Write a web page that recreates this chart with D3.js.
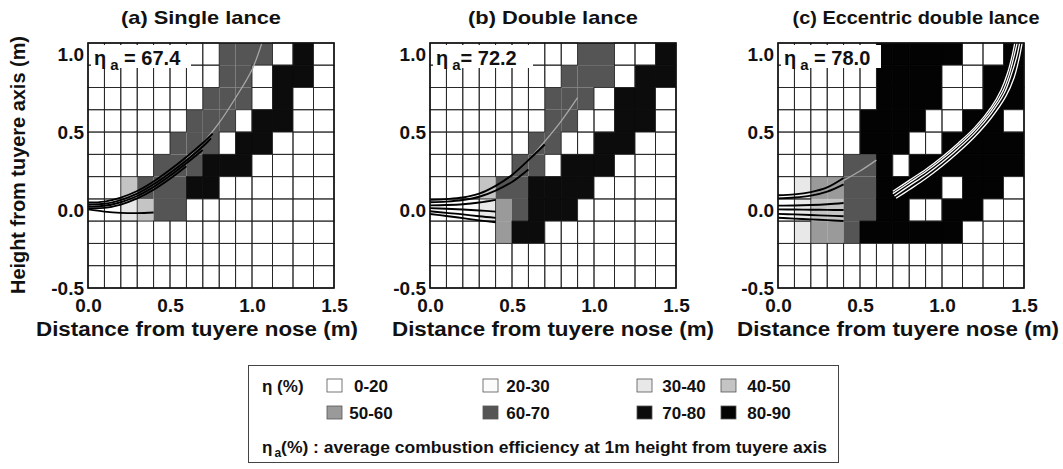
<!DOCTYPE html>
<html>
<head>
<meta charset="utf-8">
<script src="https://cdn.jsdelivr.net/npm/d3@7"></script>
<style>
body { margin: 0; background: #fff; }
text { font-family: "Liberation Sans", Arial, sans-serif; font-weight: bold; fill: #111; }
</style>
</head>
<body>
<svg id="chart" width="1063" height="469"></svg>
<script>
// cell edges (m); rows listed from top to bottom
const xEdges = [0, 0.1, 0.2, 0.3, 0.4, 0.5, 0.6, 0.7, 0.8, 0.9, 1.0, 1.125, 1.25, 1.375, 1.5];
const yEdges = [1.071, 0.929, 0.786, 0.643, 0.5, 0.357, 0.214, 0.071, -0.071, -0.214, -0.357, -0.5];

const xTicks = [0, 0.5, 1.0, 1.5];
const yTicks = [-0.5, 0, 0.5, 1.0];

// combustion efficiency classes (lower bound of each band, %)
const classLow = [0, 20, 30, 40, 50, 60, 70, 80];
const classLabels = ["0-20", "20-30", "30-40", "40-50", "50-60", "60-70", "70-80", "80-90"];

const titles = ["(a) Single lance", "(b) Double lance", "(c) Eccentric double lance"];
const etaA = ["67.4", "72.2", "78.0"];

const gridA = [
  [0,0,0,0,0,0,0,0,60,60,60,0,70,0],
  [0,0,0,0,0,0,0,0,60,60,0,70,70,0],
  [0,0,0,0,0,0,0,60,60,60,0,70,0,0],
  [0,0,0,0,0,0,60,60,60,0,70,70,0,0],
  [0,0,0,0,0,60,60,60,0,70,70,0,0,0],
  [0,0,0,0,60,60,60,70,70,70,0,0,0,0],
  [0,0,40,60,60,60,70,70,0,0,0,0,0,0],
  [0,0,30,40,60,60,0,0,0,0,0,0,0,0],
  [0,0,0,0,0,0,0,0,0,0,0,0,0,0],
  [0,0,0,0,0,0,0,0,0,0,0,0,0,0],
  [0,0,0,0,0,0,0,0,0,0,0,0,0,0]
];
const gridB = [
  [0,0,0,0,0,0,0,0,0,60,60,0,0,70],
  [0,0,0,0,0,0,0,0,60,60,60,0,70,70],
  [0,0,0,0,0,0,0,60,60,60,0,70,70,0],
  [0,0,0,0,0,0,0,60,60,0,0,70,70,0],
  [0,0,0,0,0,0,60,60,0,0,70,70,0,0],
  [0,0,0,0,0,60,60,0,70,70,70,0,0,0],
  [0,0,0,40,60,60,70,70,70,70,0,0,0,0],
  [0,0,0,30,50,60,70,70,70,0,0,0,0,0],
  [0,0,0,0,50,70,70,0,0,0,0,0,0,0],
  [0,0,0,0,0,0,0,0,0,0,0,0,0,0],
  [0,0,0,0,0,0,0,0,0,0,0,0,0,0]
];
const gridC = [
  [0,0,0,0,0,0,80,80,80,80,80,0,0,80],
  [0,0,0,0,0,0,80,80,80,80,0,0,80,80],
  [0,0,0,0,0,0,80,80,80,80,0,0,80,80],
  [0,0,0,0,0,80,80,80,80,0,0,80,80,0],
  [0,0,0,0,0,80,80,80,0,0,80,80,80,80],
  [0,0,0,0,60,60,80,0,80,80,80,80,80,80],
  [0,30,50,50,60,60,80,80,80,80,0,80,80,0],
  [0,30,40,40,60,60,80,80,0,0,80,80,0,0],
  [0,30,50,50,60,80,80,80,80,80,80,0,0,0],
  [0,0,0,0,0,0,0,0,0,0,0,0,0,0],
  [0,0,0,0,0,0,0,0,0,0,0,0,0,0]
];

// particle trajectories [x, y] in m
const linesA = [
  [[0,0.048],[0.1,0.054],[0.2,0.08],[0.3,0.122],[0.4,0.183],[0.5,0.258],[0.6,0.34],[0.7,0.43],[0.76,0.49]],
  [[0,0.036],[0.1,0.04],[0.2,0.064],[0.3,0.105],[0.4,0.165],[0.5,0.238],[0.6,0.318],[0.7,0.407],[0.75,0.46]],
  [[0,0.024],[0.1,0.027],[0.2,0.05],[0.3,0.09],[0.4,0.148],[0.5,0.22],[0.6,0.3],[0.7,0.385]],
  [[0,0.012],[0.1,0.014],[0.2,0.035],[0.3,0.074],[0.4,0.13],[0.5,0.2],[0.6,0.28]],
  [[0,0.004],[0.1,-0.01],[0.2,-0.018],[0.3,-0.02],[0.4,-0.016]]
];
const fadeA = [[0.6,0.33],[0.7,0.43],[0.8,0.56],[0.9,0.72],[1.0,0.9],[1.06,1.07]];

const linesB = [
  [[0,0.065],[0.1,0.07],[0.2,0.08],[0.3,0.105],[0.4,0.155],[0.5,0.225],[0.6,0.32],[0.7,0.42]],
  [[0,0.05],[0.1,0.054],[0.2,0.064],[0.3,0.085],[0.4,0.125],[0.5,0.18],[0.6,0.26]],
  [[0,0.03],[0.1,0.032],[0.2,0.037],[0.3,0.048],[0.4,0.065]],
  [[0,0.012],[0.1,0.008],[0.2,0.003],[0.3,-0.003],[0.4,-0.01]],
  [[0,-0.008],[0.1,-0.018],[0.2,-0.028],[0.3,-0.04],[0.4,-0.05]],
  [[0,-0.025],[0.1,-0.038],[0.2,-0.052],[0.3,-0.066],[0.4,-0.078]]
];
const fadeB = [[0.6,0.32],[0.7,0.44],[0.8,0.57],[0.9,0.72]];

const linesC = [
  [[0,0.095],[0.1,0.1],[0.2,0.115],[0.3,0.145],[0.4,0.205]],
  [[0,0.075],[0.1,0.08],[0.2,0.092],[0.3,0.118],[0.4,0.165]],
  [[0,0.028],[0.1,0.029],[0.2,0.032],[0.3,0.037],[0.4,0.045]],
  [[0,0.004],[0.1,0.003],[0.2,0.002],[0.3,0.001],[0.4,0.0]],
  [[0,-0.025],[0.1,-0.028],[0.2,-0.032],[0.3,-0.036],[0.4,-0.04]],
  [[0,-0.05],[0.1,-0.055],[0.2,-0.06],[0.3,-0.065],[0.4,-0.07]]
];
const whiteC = [
  [[0.70,0.12],[0.8,0.19],[0.9,0.26],[1.0,0.34],[1.1,0.43],[1.2,0.53],[1.3,0.66],[1.36,0.77],[1.4,0.88],[1.43,1.0],[1.445,1.08]],
  [[0.70,0.105],[0.8,0.175],[0.9,0.245],[1.0,0.325],[1.1,0.415],[1.2,0.515],[1.3,0.64],[1.37,0.76],[1.41,0.87],[1.44,0.99],[1.46,1.08]],
  [[0.71,0.09],[0.8,0.155],[0.9,0.225],[1.0,0.305],[1.1,0.395],[1.2,0.495],[1.3,0.62],[1.38,0.75],[1.42,0.86],[1.455,0.98],[1.475,1.08]],
  [[0.72,0.075],[0.8,0.13],[0.9,0.2],[1.0,0.28],[1.1,0.37],[1.2,0.47],[1.3,0.59],[1.39,0.73],[1.44,0.85],[1.47,0.97],[1.49,1.08]]
];
const fadeC = [[0.4,0.19],[0.5,0.25],[0.6,0.32]];

const panels = [
  {title: titles[0], eta: etaA[0], grid: gridA, lines: linesA, fade: [fadeA], white: []},
  {title: titles[1], eta: etaA[1], grid: gridB, lines: linesB, fade: [fadeB], white: []},
  {title: titles[2], eta: etaA[2], grid: gridC, lines: linesC, fade: [fadeC], white: whiteC}
];

const svg = d3.select("#chart");
svg.append("rect").attr("width", 1063).attr("height", 469).attr("fill", "#fff");

const plotW = 246, plotH = 245, plotTop = 43;
const panelLeft = [88, 430, 778];
const titleX = [201, 553, 916];
const titleLen = [160, 170, 247];
const xTitleX = [197, 553, 898];

const x = d3.scaleLinear().domain([0, 1.5]).range([0, plotW]);
const y = d3.scaleLinear().domain([-0.5, 1.071]).range([plotH, 0]);
const fill = d3.scaleOrdinal().domain(classLow)
  .range(["#ffffff", "#fbfbfb", "#e8e8e8", "#c4c4c4", "#9a9a9a", "#555555", "#0c0c0c", "#030303"]);

const line = d3.line().x(d => x(d[0])).y(d => y(d[1])).curve(d3.curveCatmullRom);

panels.forEach((p, i) => {
  const g = svg.append("g").attr("transform", "translate(" + panelLeft[i] + "," + plotTop + ")");

  g.append("clipPath").attr("id", "clip" + i)
    .append("rect").attr("width", plotW).attr("height", plotH);

  const cells = [];
  p.grid.forEach((row, r) => row.forEach((v, c) => cells.push({r: r, c: c, v: v})));

  const cellX = d => x(xEdges[d.c]);
  const cellY = d => y(yEdges[d.r]);
  const cellW = d => x(xEdges[d.c + 1]) - x(xEdges[d.c]);
  const cellH = d => y(yEdges[d.r + 1]) - y(yEdges[d.r]);

  g.selectAll(".cell")
    .data(cells)
    .enter().append("rect")
    .attr("class", "cell")
    .attr("x", cellX).attr("y", cellY).attr("width", cellW).attr("height", cellH)
    .attr("fill", d => fill(d.v))
    .attr("stroke", d => d.v >= 70 ? fill(d.v) : "none")
    .attr("stroke-width", 0.8);

  // borders of the light cells
  g.selectAll(".edge")
    .data(cells.filter(d => d.v < 40))
    .enter().append("rect")
    .attr("class", "edge")
    .attr("x", cellX).attr("y", cellY).attr("width", cellW).attr("height", cellH)
    .attr("fill", "none")
    .attr("stroke", "#262626")
    .attr("stroke-width", 0.9);

  const traj = g.append("g").attr("clip-path", "url(#clip" + i + ")").attr("fill", "none");
  traj.selectAll(".fade").data(p.fade).enter().append("path")
    .attr("d", line).attr("stroke", "#a8a8a8").attr("stroke-width", 1.3);
  traj.selectAll(".traj").data(p.lines).enter().append("path")
    .attr("d", line).attr("stroke", "#000").attr("stroke-width", 1.9);
  traj.selectAll(".white").data(p.white).enter().append("path")
    .attr("d", line).attr("stroke", "#fff").attr("stroke-width", 1.3);

  g.append("rect").attr("width", plotW).attr("height", plotH)
    .attr("fill", "none").attr("stroke", "#111").attr("stroke-width", 1.6);

  // eta_a label
  g.append("rect").attr("x", 3).attr("y", 2).attr("width", 100).attr("height", 23).attr("fill", "#fff");
  const lab = g.append("text").attr("x", 6).attr("y", 22).attr("font-size", 20);
  lab.append("tspan").text("η");
  lab.append("tspan").attr("dx", 4).attr("dy", 5).attr("font-size", 15).text("a");
  lab.append("tspan").attr("dy", -5).text((i === 1 ? "= " : " = ") + p.eta);

  // axes
  const gx = g.append("g").attr("transform", "translate(0," + plotH + ")")
    .call(d3.axisBottom(x).tickValues(xTicks).tickSize(0).tickPadding(11).tickFormat(d3.format(".1f")));
  const gy = g.append("g")
    .call(d3.axisLeft(y).tickValues(yTicks).tickSize(0).tickPadding(4).tickFormat(d3.format(".1f")));
  [gx, gy].forEach(a => {
    a.select(".domain").remove();
    a.selectAll("text").attr("font-size", 19).attr("fill", "#111")
      .attr("font-family", "Liberation Sans, Arial, sans-serif").attr("font-weight", "bold");
  });
  gy.selectAll("text").text(d => d < 0 ? "-0.5" : d3.format(".1f")(d));

  svg.append("text").attr("x", titleX[i]).attr("y", 24).attr("text-anchor", "middle")
    .attr("font-size", 19).attr("textLength", titleLen[i]).attr("lengthAdjust", "spacingAndGlyphs")
    .text(p.title);
  svg.append("text").attr("x", xTitleX[i]).attr("y", 336).attr("text-anchor", "middle")
    .attr("font-size", 20).attr("textLength", 322).attr("lengthAdjust", "spacingAndGlyphs")
    .text("Distance from tuyere nose (m)");
});

svg.append("text").attr("transform", "translate(25,165) rotate(-90)").attr("text-anchor", "middle")
  .attr("font-size", 20).attr("textLength", 258).attr("lengthAdjust", "spacingAndGlyphs")
  .text("Height from tuyere axis (m)");

// legend
const lg = svg.append("g");
lg.append("rect").attr("x", 248.5).attr("y", 365.5).attr("width", 590).attr("height", 97)
  .attr("fill", "#fff").attr("stroke", "#444").attr("stroke-width", 1);
lg.append("text").attr("x", 262).attr("y", 392).attr("font-size", 17).text("η  (%)");

const swX = [327, 483, 637, 721];
const labX = [371, 528, 684, 769];
const rowY = [386, 413];
const items = lg.selectAll(".item").data(classLow).enter().append("g").attr("class", "item");
items.append("rect")
  .attr("x", (d, i) => swX[i % 4]).attr("y", (d, i) => rowY[Math.floor(i / 4)] - 7)
  .attr("width", 15).attr("height", 13)
  .attr("fill", d => fill(d)).attr("stroke", "#555").attr("stroke-width", 0.8);
items.append("text")
  .attr("x", (d, i) => labX[i % 4]).attr("y", (d, i) => rowY[Math.floor(i / 4)] + 6)
  .attr("text-anchor", "middle").attr("font-size", 17)
  .text((d, i) => classLabels[i]);

const note = lg.append("text").attr("x", 262).attr("y", 453).attr("font-size", 17);
note.append("tspan").text("η");
note.append("tspan").attr("dx", 2).attr("dy", 4).attr("font-size", 12).text("a");
note.append("tspan").attr("dy", -4).attr("textLength", 546).attr("lengthAdjust", "spacingAndGlyphs")
  .text("(%) : average combustion efficiency at 1m height from tuyere axis");
</script>
</body>
</html>
